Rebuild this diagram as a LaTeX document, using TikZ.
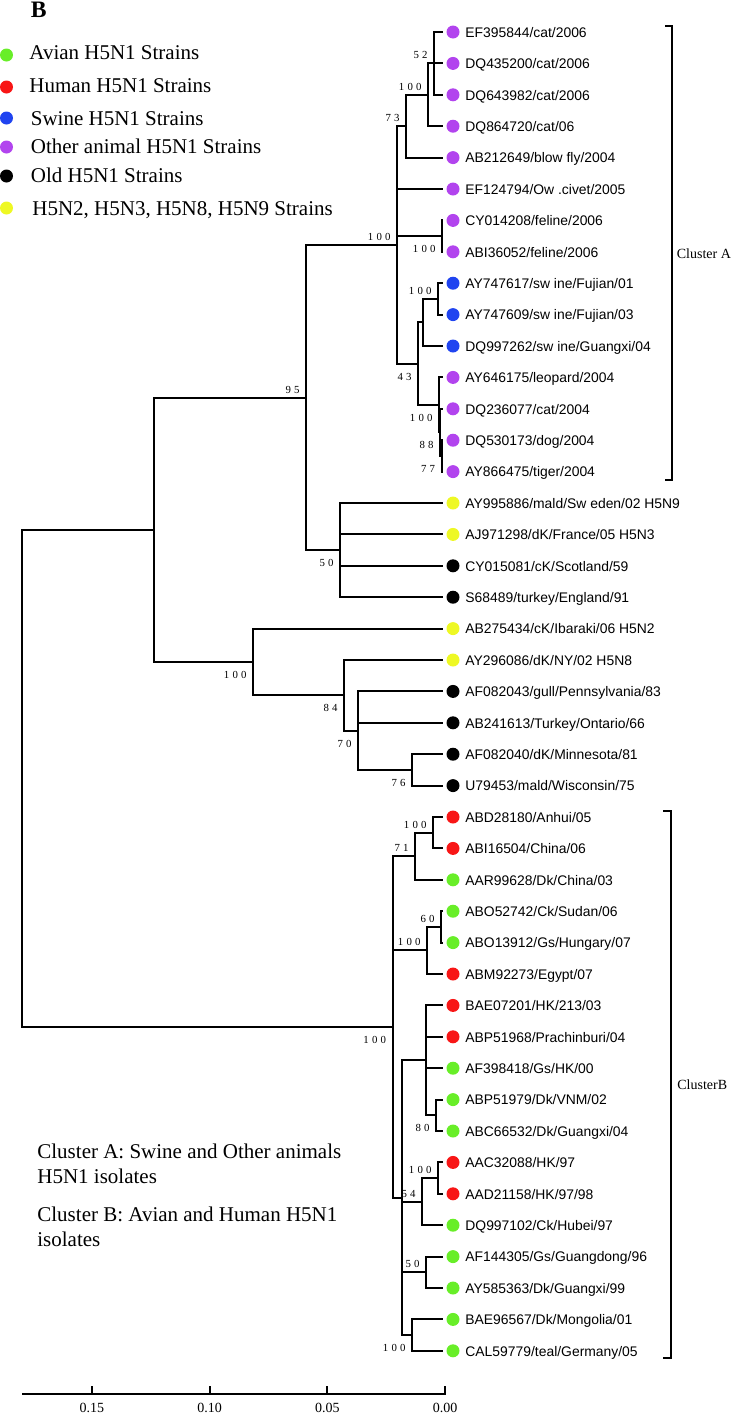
\documentclass[tikz,border=0pt]{standalone}
\usepackage{fontspec}
\setmainfont{Liberation Serif}
\newfontfamily\leaffont{Liberation Sans}
\newfontfamily\bootfont[LetterSpace=30]{Liberation Serif}
\usepackage{tikz}
\usetikzlibrary{positioning}
\definecolor{aviangreen}{RGB}{104, 238, 40}
\definecolor{humanred}{RGB}{248, 22, 22}
\definecolor{swineblue}{RGB}{32, 68, 240}
\definecolor{otherpurple}{RGB}{178, 68, 238}
\definecolor{oldblack}{RGB}{0, 0, 0}
\definecolor{mixyellow}{RGB}{238, 248, 36}

\begin{document}
\begin{tikzpicture}[x=0.5pt, y=-0.5pt,
  treeline/.style={line width=1pt},
  strain/.style={circle, fill=#1, inner sep=0pt, minimum size=6.5pt, outer sep=1.75pt},
  leaf/.style={anchor=base west, inner sep=0pt, font=\leaffont\fontsize{6.95}{8}\selectfont},
  boot/.style={inner sep=0pt, font=\bootfont\fontsize{5.4}{6}\selectfont},
  bsa/.style={boot, above left=2pt and 3pt of #1},
  bsb/.style={boot, below left=4.5pt and 3pt of #1},
  legendtxt/.style={anchor=base west, inner sep=0pt, font=\fontsize{10.5}{12.5}\selectfont},
  clab/.style={anchor=base west, inner sep=0pt, font=\fontsize{7}{8}\selectfont}]
  \useasboundingbox (0,0) rectangle (733,1414);

  % Panel letter and legend
  \node[anchor=base west, inner sep=0pt, font=\bfseries\fontsize{11.8}{12}\selectfont] (panel) at (30.5,17.3) {B};
  \node[strain=aviangreen] (k1) at (6.5,55) {};   \node[legendtxt] (kt1) at (29,59) {Avian H5N1 Strains};
  \node[strain=humanred] (k2) at (6.5,87) {};     \node[legendtxt] (kt2) at (29,92) {Human H5N1 Strains};
  \node[strain=swineblue] (k3) at (6.5,118) {};   \node[legendtxt] (kt3) at (30.5,125) {Swine H5N1 Strains};
  \node[strain=otherpurple] (k4) at (6.5,147) {}; \node[legendtxt] (kt4) at (30.5,153) {Other animal H5N1 Strains};
  \node[strain=oldblack] (k5) at (6.5,176) {};    \node[legendtxt] (kt5) at (30.5,182) {Old H5N1 Strains};
  \node[strain=mixyellow] (k6) at (6.5,208) {};   \node[legendtxt] (kt6) at (32,215) {H5N2, H5N3, H5N8, H5N9 Strains};

  % Strains (tips)
  \node[strain=otherpurple] (d1) at (453,32) {};     \node[leaf] (t1) at (465,37.3) {EF395844/cat/2006};
  \node[strain=otherpurple] (d2) at (453,63.4) {};   \node[leaf] (t2) at (465,68.7) {DQ435200/cat/2006};
  \node[strain=otherpurple] (d3) at (453,94.8) {};   \node[leaf] (t3) at (465,100.1) {DQ643982/cat/2006};
  \node[strain=otherpurple] (d4) at (453,126.2) {};  \node[leaf] (t4) at (465,131.5) {DQ864720/cat/06};
  \node[strain=otherpurple] (d5) at (453,157.6) {};  \node[leaf] (t5) at (465,162.9) {AB212649/blow fly/2004};
  \node[strain=otherpurple] (d6) at (453,189) {};    \node[leaf] (t6) at (465,194.3) {EF124794/Ow .civet/2005};
  \node[strain=otherpurple] (d7) at (453,220.4) {};  \node[leaf] (t7) at (465,225.7) {CY014208/feline/2006};
  \node[strain=otherpurple] (d8) at (453,251.8) {};  \node[leaf] (t8) at (465,257.1) {ABI36052/feline/2006};
  \node[strain=swineblue] (d9) at (453,283.2) {};    \node[leaf] (t9) at (465,288.5) {AY747617/sw ine/Fujian/01};
  \node[strain=swineblue] (d10) at (453,314.6) {};   \node[leaf] (t10) at (465,319.9) {AY747609/sw ine/Fujian/03};
  \node[strain=swineblue] (d11) at (453,346) {};     \node[leaf] (t11) at (465,351.3) {DQ997262/sw ine/Guangxi/04};
  \node[strain=otherpurple] (d12) at (453,377.4) {}; \node[leaf] (t12) at (465,382.7) {AY646175/leopard/2004};
  \node[strain=otherpurple] (d13) at (453,408.8) {}; \node[leaf] (t13) at (465,414.1) {DQ236077/cat/2004};
  \node[strain=otherpurple] (d14) at (453,440.2) {}; \node[leaf] (t14) at (465,445.5) {DQ530173/dog/2004};
  \node[strain=otherpurple] (d15) at (453,471.6) {}; \node[leaf] (t15) at (465,476.9) {AY866475/tiger/2004};
  \node[strain=mixyellow] (d16) at (453,503) {};     \node[leaf] (t16) at (465,508.3) {AY995886/mald/Sw eden/02 H5N9};
  \node[strain=mixyellow] (d17) at (453,534.4) {};   \node[leaf] (t17) at (465,539.7) {AJ971298/dK/France/05 H5N3};
  \node[strain=oldblack] (d18) at (453,565.8) {};    \node[leaf] (t18) at (465,571.1) {CY015081/cK/Scotland/59};
  \node[strain=oldblack] (d19) at (453,597.2) {};    \node[leaf] (t19) at (465,602.5) {S68489/turkey/England/91};
  \node[strain=mixyellow] (d20) at (453,628.6) {};   \node[leaf] (t20) at (465,633.9) {AB275434/cK/Ibaraki/06 H5N2};
  \node[strain=mixyellow] (d21) at (453,660) {};     \node[leaf] (t21) at (465,665.3) {AY296086/dK/NY/02 H5N8};
  \node[strain=oldblack] (d22) at (453,691.4) {};    \node[leaf] (t22) at (465,696.7) {AF082043/gull/Pennsylvania/83};
  \node[strain=oldblack] (d23) at (453,722.8) {};    \node[leaf] (t23) at (465,728.1) {AB241613/Turkey/Ontario/66};
  \node[strain=oldblack] (d24) at (453,754.2) {};    \node[leaf] (t24) at (465,759.5) {AF082040/dK/Minnesota/81};
  \node[strain=oldblack] (d25) at (453,785.6) {};    \node[leaf] (t25) at (465,790.9) {U79453/mald/Wisconsin/75};
  \node[strain=humanred] (d26) at (453,817) {};      \node[leaf] (t26) at (465,822.3) {ABD28180/Anhui/05};
  \node[strain=humanred] (d27) at (453,848.4) {};    \node[leaf] (t27) at (465,853.7) {ABI16504/China/06};
  \node[strain=aviangreen] (d28) at (453,879.8) {};  \node[leaf] (t28) at (465,885.1) {AAR99628/Dk/China/03};
  \node[strain=aviangreen] (d29) at (453,911.2) {};  \node[leaf] (t29) at (465,916.5) {ABO52742/Ck/Sudan/06};
  \node[strain=aviangreen] (d30) at (453,942.6) {};  \node[leaf] (t30) at (465,947.9) {ABO13912/Gs/Hungary/07};
  \node[strain=humanred] (d31) at (453,974) {};      \node[leaf] (t31) at (465,979.3) {ABM92273/Egypt/07};
  \node[strain=humanred] (d32) at (453,1005.4) {};   \node[leaf] (t32) at (465,1010.7) {BAE07201/HK/213/03};
  \node[strain=humanred] (d33) at (453,1036.8) {};   \node[leaf] (t33) at (465,1042.1) {ABP51968/Prachinburi/04};
  \node[strain=aviangreen] (d34) at (453,1068.2) {}; \node[leaf] (t34) at (465,1073.5) {AF398418/Gs/HK/00};
  \node[strain=aviangreen] (d35) at (453,1099.6) {}; \node[leaf] (t35) at (465,1104.9) {ABP51979/Dk/VNM/02};
  \node[strain=aviangreen] (d36) at (453,1131) {};   \node[leaf] (t36) at (465,1136.3) {ABC66532/Dk/Guangxi/04};
  \node[strain=humanred] (d37) at (453,1162.4) {};   \node[leaf] (t37) at (465,1167.7) {AAC32088/HK/97};
  \node[strain=humanred] (d38) at (453,1193.8) {};   \node[leaf] (t38) at (465,1199.1) {AAD21158/HK/97/98};
  \node[strain=aviangreen] (d39) at (453,1225.2) {}; \node[leaf] (t39) at (465,1230.5) {DQ997102/Ck/Hubei/97};
  \node[strain=aviangreen] (d40) at (453,1256.6) {}; \node[leaf] (t40) at (465,1261.9) {AF144305/Gs/Guangdong/96};
  \node[strain=aviangreen] (d41) at (453,1288) {};   \node[leaf] (t41) at (465,1293.3) {AY585363/Dk/Guangxi/99};
  \node[strain=aviangreen] (d42) at (453,1319.4) {}; \node[leaf] (t42) at (465,1324.7) {BAE96567/Dk/Mongolia/01};
  \node[strain=aviangreen] (d43) at (453,1350.8) {}; \node[leaf] (t43) at (465,1356.1) {CAL59779/teal/Germany/05};

  % Internal nodes
  \coordinate (a52) at (434,63.4);      \coordinate (a100a) at (428,94.8);
  \coordinate (a73) at (406,126.2);     \coordinate (aFel) at (442,236.1);
  \coordinate (aSw) at (438,298.9);     \coordinate (aSw2) at (423,322.45);
  \coordinate (a77) at (441.5,455.9);   \coordinate (a88) at (440,432.35);
  \coordinate (a100b) at (439,404.9);   \coordinate (a43) at (418,363.7);
  \coordinate (aRoot) at (397,244.95);  \coordinate (n50) at (340,550.1);
  \coordinate (n95) at (306,397.5);     \coordinate (n76) at (412,769.9);
  \coordinate (n70) at (358,730.65);    \coordinate (n84) at (344,695.3);
  \coordinate (n100) at (253,661.95);   \coordinate (nUp) at (154,529.7);
  \coordinate (b100a) at (433,832.7);   \coordinate (b71) at (415,856.25);
  \coordinate (b60) at (441,926.9);     \coordinate (b100b) at (427,950.45);
  \coordinate (b80) at (436,1115.3);    \coordinate (bHK) at (426,1060.35);
  \coordinate (b100c) at (438,1178.1);  \coordinate (b54) at (422,1201.65);
  \coordinate (b50) at (426,1272.3);    \coordinate (b100d) at (412,1335.1);
  \coordinate (bZ) at (402,1197.7);     \coordinate (bRoot) at (392.5,1027);
  \coordinate (root) at (22,778.3);

  % Branches, cluster A
  \draw[treeline] (a52) |- (d1) (a52) |- (d2) (a52) |- (d3);
  \draw[treeline] (a100a) |- (a52) (a100a) |- (d4);
  \draw[treeline] (a73) |- (a100a) (a73) |- (d5);
  \draw[treeline] (aFel) |- (d7) (aFel) |- (d8);
  \draw[treeline] (aSw) |- (d9) (aSw) |- (d10);
  \draw[treeline] (aSw2) |- (aSw) (aSw2) |- (d11);
  \draw[treeline] (a77) |- (d14) (a77) |- (d15);
  \draw[treeline] (a88) |- (d13) (a88) |- (a77);
  \draw[treeline] (a100b) |- (d12) (a100b) |- (a88);
  \draw[treeline] (a43) |- (aSw2) (a43) |- (a100b);
  \draw[treeline] (aRoot) |- (a73) (aRoot) |- (d6) (aRoot) |- (aFel) (aRoot) |- (a43);
  % Branches, old and other subtypes
  \draw[treeline] (n50) |- (d16) (n50) |- (d17) (n50) |- (d18) (n50) |- (d19);
  \draw[treeline] (n95) |- (aRoot) (n95) |- (n50);
  \draw[treeline] (n76) |- (d24) (n76) |- (d25);
  \draw[treeline] (n70) |- (d22) (n70) |- (d23) (n70) |- (n76);
  \draw[treeline] (n84) |- (d21) (n84) |- (n70);
  \draw[treeline] (n100) |- (d20) (n100) |- (n84);
  \draw[treeline] (nUp) |- (n95) (nUp) |- (n100);
  % Branches, cluster B
  \draw[treeline] (b100a) |- (d26) (b100a) |- (d27);
  \draw[treeline] (b71) |- (b100a) (b71) |- (d28);
  \draw[treeline] (b60) |- (d29) (b60) |- (d30);
  \draw[treeline] (b100b) |- (b60) (b100b) |- (d31);
  \draw[treeline] (b80) |- (d35) (b80) |- (d36);
  \draw[treeline] (bHK) |- (d32) (bHK) |- (d33) (bHK) |- (d34) (bHK) |- (b80);
  \draw[treeline] (b100c) |- (d37) (b100c) |- (d38);
  \draw[treeline] (b54) |- (b100c) (b54) |- (d39);
  \draw[treeline] (b50) |- (d40) (b50) |- (d41);
  \draw[treeline] (b100d) |- (d42) (b100d) |- (d43);
  \draw[treeline] (bZ) |- (bHK) (bZ) |- (b54) (bZ) |- (b50) (bZ) |- (b100d);
  \draw[treeline] (bRoot) |- (b71) (bRoot) |- (b100b) (bRoot) |- (bZ);
  \draw[treeline] (root) |- (nUp) (root) |- (bRoot);

  % Bootstrap values
  \node[bsa=a52] (bs1) {52};
  \node[bsa=a100a] (bs2) {100};
  \node[bsa=a73] (bs3) {73};
  \node[bsa=aRoot] (bs4) {100};
  \node[bsb=aFel] (bs5) {100};
  \node[bsa=aSw] (bs6) {100};
  \node[bsb=a43] (bs7) {43};
  \node[bsb=a100b] (bs8) {100};
  \node[bsb=a88] (bs9) {88};
  \node[bsb=a77] (bs10) {77};
  \node[bsa=n95] (bs11) {95};
  \node[bsb=n50] (bs12) {50};
  \node[bsb=n100] (bs13) {100};
  \node[bsb=n84] (bs14) {84};
  \node[bsb=n70] (bs15) {70};
  \node[bsb=n76] (bs16) {76};
  \node[bsa=b100a] (bs17) {100};
  \node[bsa=b71] (bs18) {71};
  \node[bsa=b60] (bs19) {60};
  \node[bsa=b100b] (bs20) {100};
  \node[bsb=bRoot] (bs21) {100};
  \node[bsb=b80] (bs22) {80};
  \node[bsa=b100c] (bs23) {100};
  \node[bsa=b54] (bs24) {54};
  \node[bsa=b50] (bs25) {50};
  \node[bsb=b100d] (bs26) {100};

  % Cluster brackets
  \coordinate (cA1) at (665,25.7); \coordinate (cA2) at (665,480);
  \draw[treeline] (cA1) -- ++(7,0) |- (cA2);
  \node[clab] (cAtxt) at (676.5,258) {Cluster A};
  \coordinate (cB1) at (663,811); \coordinate (cB2) at (663,1358);
  \draw[treeline] (cB1) -- ++(7.5,0) |- (cB2);
  \node[clab] (cBtxt) at (677,1089) {ClusterB};

  % Note on the clusters
  \node[legendtxt] (noteA1) at (37,1158) {Cluster A: Swine and Other animals};
  \node[legendtxt] (noteA2) at (37,1183) {H5N1 isolates};
  \node[legendtxt] (noteB1) at (37,1221) {Cluster B: Avian and Human H5N1};
  \node[legendtxt] (noteB2) at (37,1246) {isolates};

  % Scale bar
  \coordinate (bar0) at (22,1394); \coordinate (bar1) at (445,1394);
  \coordinate (tk15) at (91.9,1394); \coordinate (tk10) at (209.6,1394);
  \coordinate (tk05) at (327.3,1394);
  \draw[treeline] (bar0) -- (bar1) -- ++(0,-8);
  \draw[treeline] (tk15) -- ++(0,-8) (tk10) -- ++(0,-8) (tk05) -- ++(0,-8);
  \node[clab, anchor=base] (v15) at (91.9,1412) {0.15};
  \node[clab, anchor=base] (v10) at (209.6,1412) {0.10};
  \node[clab, anchor=base] (v05) at (327.3,1412) {0.05};
  \node[clab, anchor=base] (v00) at (445,1412) {0.00};
\end{tikzpicture}
\end{document}
